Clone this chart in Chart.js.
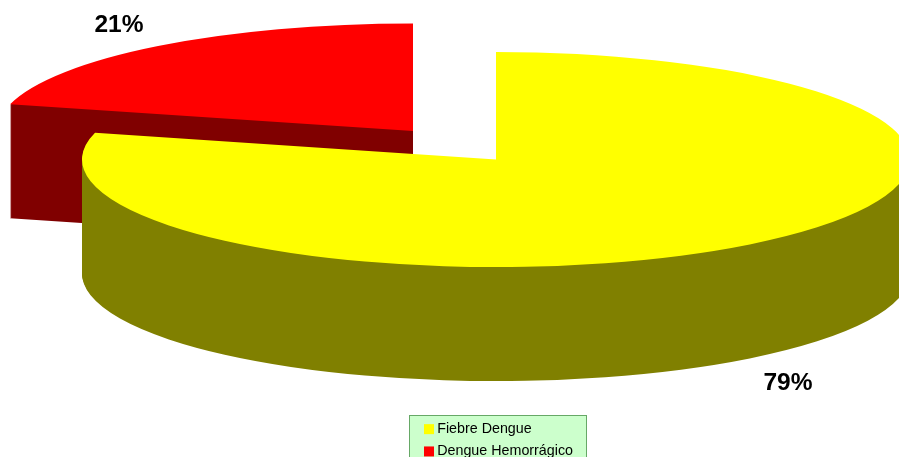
<!DOCTYPE html>
<html>
<head>
<meta charset="utf-8">
<script src="https://cdn.jsdelivr.net/npm/chart.js@4"></script>
<style>
html, body { margin: 0; padding: 0; background: #fff; overflow: hidden; }
canvas { display: block; }
</style>
</head>
<body>
<canvas id="canvas1" width="899" height="457"></canvas>
<script>
const categories = ['Fiebre Dengue', 'Dengue Hemorrágico'];
const values = [79, 21];
const topColors = ['#FFFF00', '#FF0000'];
const wallColors = ['#808000', '#800000'];
const valueLabels = ['79%', '21%'];

// the library has no 3d pie, so the arcs get squashed and stacked here
const CX = 496, CY = 159.5, RY = 107.5, DEPTH = 114;
const sliceRx = [414, 416];
const sliceShift = [[0, 0], [-83, -28.5]];   // small slice is pulled out
const labelPos = [[788, 383.5], [119, 25.5]];

function drawArc(ctx, arc, i, color, depth) {
    ctx.save();
    ctx.translate(CX + sliceShift[i][0], CY + sliceShift[i][1] + depth);
    ctx.scale(sliceRx[i] / arc.outerRadius, RY / arc.outerRadius);
    ctx.translate(-arc.x, -arc.y);
    const saved = arc.options;
    arc.options = Object.assign({}, saved, { backgroundColor: color, borderColor: color, borderWidth: 0 });
    arc.draw(ctx);
    arc.options = saved;
    ctx.restore();
}

const pie3d = {
    id: 'pie3d',
    afterLayout(chart) {
        // legend sits at the bottom, running off the page like in the original
        const lg = chart.legend;
        const w = lg.width, h = lg.height;
        lg.left = 420; lg.right = lg.left + w;
        lg.top = 414; lg.bottom = lg.top + h;
        lg.adjustHitBoxes();
    },
    beforeDraw(chart) {
        const ctx = chart.ctx;
        ctx.save();
        ctx.fillStyle = '#CCFFCC';
        ctx.strokeStyle = '#66A866';
        ctx.lineWidth = 1;
        ctx.fillRect(409.5, 415.5, 177, 60);
        ctx.strokeRect(409.5, 415.5, 177, 60);
        ctx.restore();
    },
    beforeDatasetDraw(chart, args) {
        const ctx = chart.ctx;
        const arcs = args.meta.data;
        // small slice goes first, the big one covers it
        [1, 0].forEach(i => {
            for (let d = DEPTH; d > 0; d--) {
                drawArc(ctx, arcs[i], i, wallColors[i], d);
            }
            drawArc(ctx, arcs[i], i, topColors[i], 0);
        });
        ctx.save();
        ctx.fillStyle = '#000';
        ctx.font = 'bold 24.5px "Liberation Sans"';
        ctx.textAlign = 'center';
        ctx.textBaseline = 'middle';
        valueLabels.forEach((t, i) => ctx.fillText(t, labelPos[i][0], labelPos[i][1]));
        ctx.restore();
        return false;
    }
};

new Chart(document.getElementById('canvas1'), {
    type: 'pie',
    data: {
        labels: categories,
        datasets: [{
            data: values,
            backgroundColor: topColors,
            borderWidth: 0
        }]
    },
    options: {
        responsive: false,
        animation: false,
        radius: 120,
        plugins: {
            tooltip: { enabled: false },
            legend: {
                position: 'right',
                align: 'start',
                labels: {
                    usePointStyle: true,
                    pointStyle: 'rect',
                    boxWidth: 2,      // narrow slot keeps the text close to the swatch
                    boxHeight: 10,
                    padding: 8,
                    color: '#000',
                    font: { family: '"Liberation Sans"', size: 14.3 }
                }
            }
        }
    },
    plugins: [pie3d]
});
</script>
</body>
</html>
